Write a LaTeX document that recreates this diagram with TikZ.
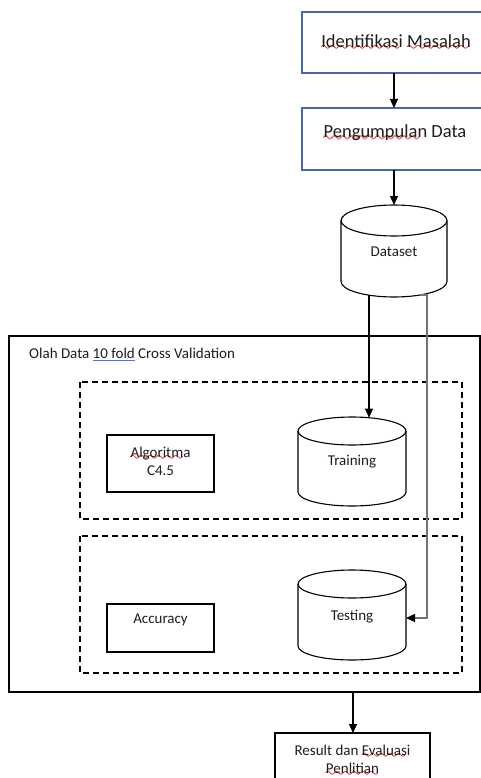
\documentclass[tikz,border=0pt]{standalone}
\usepackage{fontspec}
\setmainfont{Carlito}
\usetikzlibrary{arrows.meta}
\definecolor{boxblue}{RGB}{68,105,170}
\definecolor{txt}{RGB}{30,30,30}
\definecolor{gramblue}{RGB}{70,120,230}
\definecolor{spellred}{RGB}{230,20,20}
\font\wavefont=lasy10 scaled 1300
\newsavebox\markbox
% red squiggle under a word, as for spelling marks
\newcommand\wavepiece{\hbox{\wavefont\char58}}
\newcommand\spell[1]{\sbox\markbox{#1}%
  \rlap{\raisebox{-3.5pt}[0pt][0pt]{\textcolor{spellred}{\hbox to \wd\markbox{\leaders\wavepiece\hfill}}}}%
  \rlap{\raisebox{-3.1pt}[0pt][0pt]{\textcolor{spellred}{\hbox to \wd\markbox{\leaders\wavepiece\hfill}}}}%
  \usebox\markbox}
% straight blue underline for grammar marks
\newcommand\gram[1]{\sbox\markbox{#1}%
  \rlap{\textcolor{gramblue}{\rule[-2.5pt]{\wd\markbox}{1pt}}}\usebox\markbox}
\tikzset{
  x=1pt, y=-1pt,
  line/.style={draw=black, line width=1.1pt},
  bluebox/.style={draw=boxblue, line width=1.1pt},
  dashbox/.style={draw=black, line width=1.1pt, dash pattern=on 6pt off 4pt},
  lbl/.style={text=txt, font=\fontsize{15}{18}\selectfont, inner sep=0pt, align=center},
  biglbl/.style={text=txt, font=\fontsize{18.5}{22}\selectfont, inner sep=0pt, align=center},
  arr/.style={line width=1.1pt, -{Triangle[length=9pt,width=8pt,color=black]}},
}
% cylinder: #1 centre x, #2 top y, #3 bottom y, #4 x radius, #5 y radius
\newcommand\drum[5]{%
  \draw[line] (#1-#4,#2+#5) -- (#1-#4,#3-#5)
    arc[start angle=180,end angle=360,x radius=#4pt,y radius=#5pt] -- (#1+#4,#2+#5);
  \draw[line] (#1,#2+#5) ellipse[x radius=#4pt,y radius=#5pt];
}
\begin{document}
\begin{tikzpicture}
\useasboundingbox (0,0) rectangle (481,778);
\clip (0,0) rectangle (481,778);
\fill[white] (0,0) rectangle (481,778);

% top process boxes
\draw[bluebox] (302,12) rectangle (495,73);
\node[biglbl] (masalah) at (396,41) {\spell{Identifikasi} \spell{Masalah}};
\draw[bluebox] (302,108) rectangle (495,170);
\node[biglbl] (kumpul) at (395,133) {\spell{Pengumpulan} Data};
\coordinate (b1s) at (394,73);
\coordinate (b2n) at (394,108);
\coordinate (b2s) at (394,170);
\coordinate (dsn) at (394,205);
\draw[arr] (b1s) -- (b2n);
\draw[arr] (b2s) -- (dsn);

% dataset store
\drum{394}{205}{297}{53}{15.5}
\node[lbl] (dataset) at (394,252) {Dataset};

% outer frame
\draw[line] (9,336) rectangle (480,692);
\node[lbl, anchor=west] (olah) at (29,355) {Olah Data \gram{10 fold} Cross Validation};

% training group
\draw[dashbox] (80,382) rectangle (462,519);
\draw[line] (107,435) rectangle (214,492);
\node[lbl] (algo) at (160.5,461) {\spell{Algoritma}\\C4.5};
\drum{352}{417}{506}{54}{14}
\node[lbl] (training) at (352,462) {Training};

% testing group
\draw[dashbox] (80,536) rectangle (462,673);
\draw[line] (107,604) rectangle (214,652);
\node[lbl] (accuracy) at (160.5,620) {Accuracy};
\drum{352}{570}{660}{54}{14}
\node[lbl] (testing) at (352,617) {Testing};

% flows out of the dataset
\coordinate (dsL) at (369,295.2);
\coordinate (trTop) at (369,417.7);
\draw[arr] (dsL) -- (trTop);
\coordinate (dsR) at (420,295);
\coordinate (teR) at (406,618);
\draw[arr, draw=black!55, line width=1.3pt] (dsR) -- (427,295) |- (teR);

% result
\coordinate (frameS) at (353,692);
\coordinate (resN) at (353,733);
\draw[arr] (frameS) -- (resN);
\draw[line] (275,733) rectangle (430,800);
\node[lbl] (result) at (352.5,759) {Result dan \spell{Evaluasi}\\\spell{Penlitian}};
\end{tikzpicture}
\end{document}
